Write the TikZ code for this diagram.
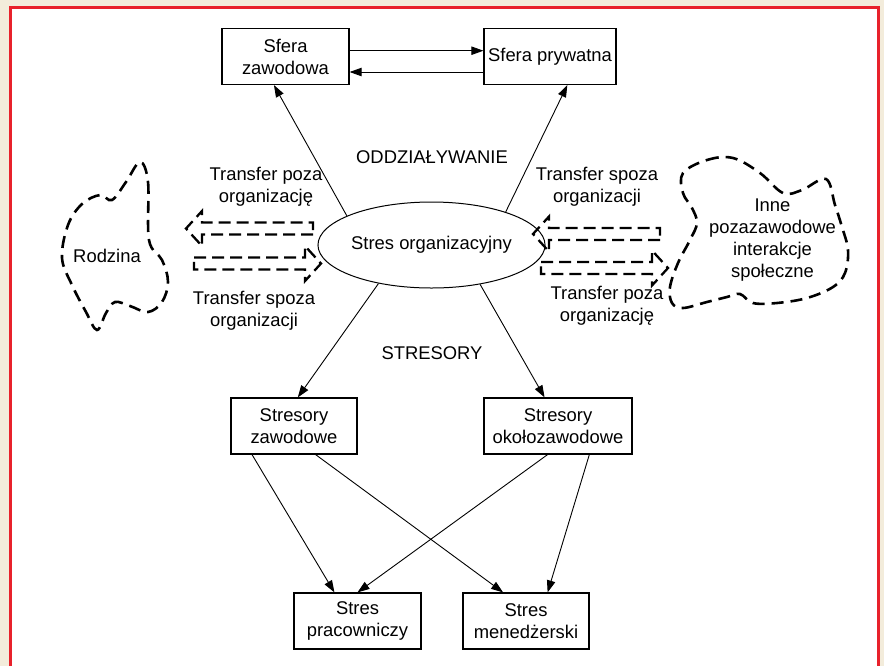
\documentclass[tikz,border=0pt]{standalone}
\usepackage{fontspec}
\setmainfont{Liberation Sans}
\usepackage{xcolor}
\usetikzlibrary{arrows.meta,calc,shapes.geometric}
\definecolor{pagebeige}{HTML}{F3ECDB}
\definecolor{framered}{HTML}{E8212B}
\tikzset{
  transfer/.pic={
    \draw[hollow] (0,-6) -- (111,-6) -- (111,-17.5) -- (127,0)
      -- (111,17.5) -- (111,6) -- (0,6) -- cycle;
  }
}
\begin{document}
\begin{tikzpicture}[x=0.5pt,y=-0.5pt,
      font=\fontsize{9.2pt}{11pt}\selectfont,
      box/.style={rectangle, draw, line width=0.6pt, minimum height=28pt,
        align=center, inner sep=0pt},
      link/.style={-{Triangle[length=6pt,width=4.2pt]}, line width=0.45pt},
      blob/.style={draw, line width=1.3pt, dash pattern=on 6pt off 3.5pt},
      hollow/.style={draw, line width=1.15pt, dash pattern=on 6pt off 3pt},
      ]
      % tlo i ramka
      \useasboundingbox (0,0) rectangle (884,666);
      \fill[pagebeige] (0,0) rectangle (884,666);
      \fill[white] (10.5,7.5) rectangle (878.5,666);
      \draw[framered, line width=1.5pt] (10.5,666) -- (10.5,7.5) -- (878.5,7.5) -- (878.5,666);

      \node[box, minimum width=63.5pt] (sz) at (285.5,56.5) {Sfera\\zawodowa};
      \node[box, minimum width=66pt] (sp) at (550,56.5) {Sfera prywatna};
      \node[ellipse, draw, line width=0.5pt, inner sep=0pt,
        minimum width=95.5pt, minimum height=43pt] (so) at (431.5,245) {Stres organizacyjny};
      \node[box, minimum width=63pt] (stz) at (294,426) {Stresory\\zawodowe};
      \node[box, minimum width=74pt] (sto) at (558,426) {Stresory\\okołozawodowe};
      \node[box, minimum width=63.5pt] (spr) at (357.5,621) {Stres\\pracowniczy};
      \node[box, minimum width=63pt] (smn) at (526,621) {Stres\\menedżerski};

      \node (odd) at (432,157) {ODDZIAŁYWANIE};
      \node (str) at (432,353) {STRESORY};

      \draw[link] ([yshift=2.9pt]sz.east) -- ([yshift=2.9pt]sp.west);
      \draw[link] ([yshift=-7.75pt]sp.west) -- ([yshift=-7.75pt]sz.east);

      \draw[link] (so.161) -- ($(sz.south west)!0.41!(sz.south east)$);
      \draw[link] (so.24) -- ($(sp.south west)!0.63!(sp.south east)$);
      \draw[link] (so.216) -- ($(stz.north west)!0.53!(stz.north east)$);
      \draw[link] (so.321) -- ($(sto.north west)!0.41!(sto.north east)$);

      \draw[link] ($(stz.south west)!0.17!(stz.south east)$) -- ($(spr.north west)!0.32!(spr.north east)$);
      \draw[link] ($(stz.south west)!0.67!(stz.south east)$) -- ($(smn.north west)!0.32!(smn.north east)$);
      \draw[link] ($(sto.south west)!0.43!(sto.south east)$) -- ($(spr.north west)!0.5!(spr.north east)$);
      \draw[link] ($(sto.south west)!0.71!(sto.south east)$) -- ($(smn.north west)!0.67!(smn.north east)$);

      % rodzina
      \draw[blob] plot[smooth cycle, tension=0.6] coordinates {(140,162) (148,182) (149,240)
        (162,260) (168,282) (162,302) (148,312) (130,306) (115,302) (106,313) (97,330)
        (86,312) (72,285) (62,258) (68,225) (82,204) (100,195) (112,200) (126,182)};
      \node (rodz) at (107,256) {Rodzina};

      % inne interakcje
      \draw[blob] plot[smooth cycle, tension=0.6] coordinates {(683,173) (707,160) (733,158)
        (760,173) (783,193) (802,190) (826,179) (835,205) (842,227) (848,250) (845,273)
        (833,287) (807,298) (777,303) (753,303) (740,294) (727,297) (707,302) (683,308)
        (672,303) (670,287) (678,263) (690,240) (697,223) (692,208) (683,193)};
      \node[align=center] (inne) at (772.5,240) {Inne\\pozazawodowe\\interakcje\\społeczne};

      \pic[rotate=180] (tl1) at (313,228.5) {transfer};
      \pic (tl2) at (194,263.5) {transfer};
      \pic[rotate=180] (tr1) at (660,234) {transfer};
      \pic (tr2) at (541,268) {transfer};

      \node[align=center] (tlab1) at (266,187) {Transfer poza\\organizację};
      \node[align=center] (tlab2) at (254,311) {Transfer spoza\\organizacji};
      \node[align=center] (tlab3) at (597,187) {Transfer spoza\\organizacji};
      \node[align=center] (tlab4) at (607,306) {Transfer poza\\organizację};
    \end{tikzpicture}
\end{document}
